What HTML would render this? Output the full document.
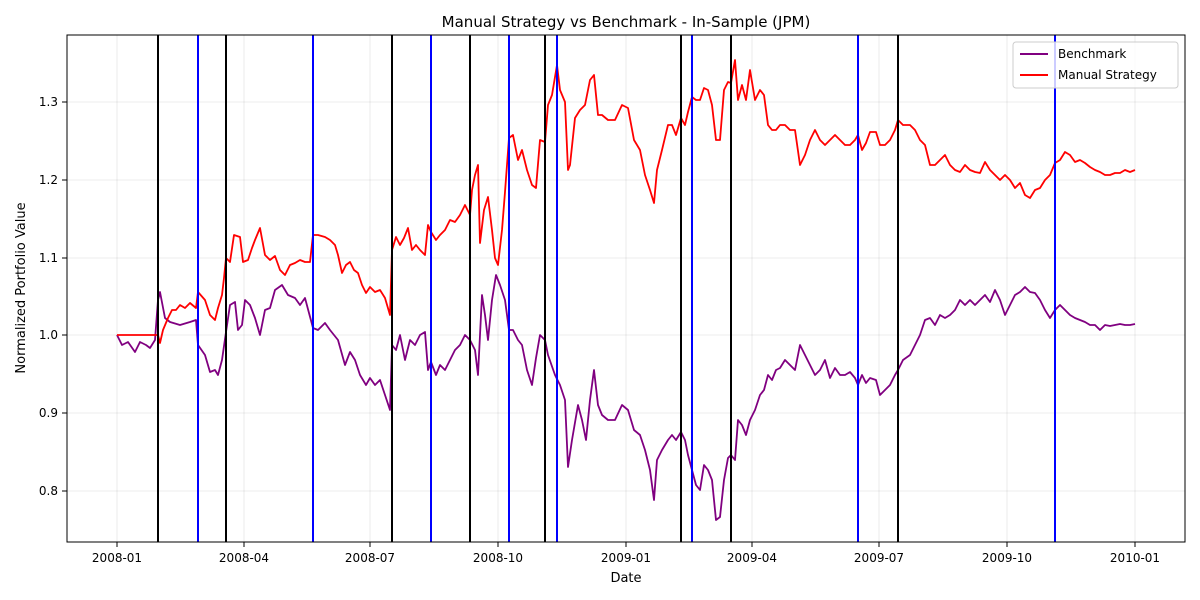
<!DOCTYPE html>
<html><head><meta charset="utf-8"><style>body{margin:0;background:#fff}svg{display:block}text{font-family:"DejaVu Sans","Liberation Sans",sans-serif;fill:#000}</style></head><body>
<svg width="1200" height="600" viewBox="0 0 1200 600">
<rect width="1200" height="600" fill="#fff"/>
<g stroke="#000" stroke-opacity="0.1" stroke-width="0.8">
<line x1="67" x2="1185" y1="491" y2="491"/><line x1="67" x2="1185" y1="413" y2="413"/><line x1="67" x2="1185" y1="335" y2="335"/><line x1="67" x2="1185" y1="258" y2="258"/><line x1="67" x2="1185" y1="180" y2="180"/><line x1="67" x2="1185" y1="102" y2="102"/>
<line y1="35" y2="542" x1="117" x2="117"/><line y1="35" y2="542" x1="244" x2="244"/><line y1="35" y2="542" x1="370" x2="370"/><line y1="35" y2="542" x1="498" x2="498"/><line y1="35" y2="542" x1="626" x2="626"/><line y1="35" y2="542" x1="752" x2="752"/><line y1="35" y2="542" x1="879" x2="879"/><line y1="35" y2="542" x1="1007" x2="1007"/><line y1="35" y2="542" x1="1135" x2="1135"/>
</g>
<polyline fill="none" stroke="#800080" stroke-width="1.8" stroke-linejoin="round" points="117,335 122,345 128,342 135,352 140,342 146,345 150,348 155,340 158,300 160,292 165,318 170,322 180,325 190,322 196,320 198,345 205,355 210,372 215,370 218,375 222,360 226,332 230,305 235,302 238,330 242,325 245,300 250,305 255,318 260,335 265,310 270,308 275,290 282,285 288,295 295,298 300,305 305,298 313,328 318,330 325,323 330,330 338,340 345,365 350,352 355,360 360,375 366,385 370,378 375,385 380,380 385,395 390,410 392,345 396,350 400,335 405,360 410,340 415,345 420,335 425,332 428,370 431,362 436,375 440,365 445,370 450,360 455,350 460,345 465,335 470,340 475,350 478,375 482,295 485,315 488,340 492,300 496,275 500,285 505,300 509,330 513,330 518,340 522,345 527,370 532,385 536,358 540,335 545,340 548,355 555,375 560,385 565,400 568,467 572,440 578,405 582,420 586,440 590,400 594,370 598,405 602,415 608,420 615,420 622,405 628,410 634,430 640,435 645,450 650,470 654,500 657,460 662,450 668,440 672,435 676,440 681,432 685,440 688,455 692,470 696,485 700,490 704,465 708,470 712,480 716,520 720,517 724,480 728,458 731,455 735,460 738,420 742,425 746,435 750,420 755,410 760,395 764,390 768,375 772,380 776,370 780,368 785,360 790,365 795,370 800,345 805,355 810,365 815,375 820,370 825,360 830,378 835,368 840,375 845,375 850,372 855,378 858,385 862,375 866,383 870,378 876,380 880,395 885,390 890,385 895,375 898,370 903,360 910,355 915,345 920,335 925,320 930,318 935,325 940,315 945,318 950,315 955,310 960,300 965,305 970,300 975,305 980,300 985,295 990,302 995,290 1000,300 1005,315 1010,305 1015,295 1020,292 1025,287 1030,292 1035,293 1040,300 1045,310 1050,318 1055,310 1060,305 1065,310 1070,315 1075,318 1080,320 1085,322 1090,325 1095,325 1100,330 1105,325 1110,326 1115,325 1120,324 1125,325 1130,325 1135,324"/>
<polyline fill="none" stroke="#ff0000" stroke-width="1.8" stroke-linejoin="round" points="117,335 158,335 160,343 163,330 168,318 172,310 176,310 180,305 185,308 190,303 196,308 198,292 205,300 210,315 215,320 218,308 222,295 224,278 226,258 230,262 234,235 240,237 243,262 248,260 252,248 255,240 260,228 265,255 270,260 275,256 280,270 285,275 290,265 295,263 300,260 305,262 310,262 313,235 318,235 325,237 330,240 335,245 338,255 342,273 346,265 350,262 354,270 358,273 362,285 366,293 370,287 375,292 380,290 385,298 390,315 392,250 396,237 400,245 404,238 408,228 412,250 416,245 420,250 425,255 428,225 431,232 436,240 440,235 445,230 450,220 455,222 460,215 465,205 470,215 472,190 475,175 478,165 480,243 484,210 488,197 492,230 495,258 498,265 502,230 505,192 509,138 513,135 518,160 522,150 527,170 532,185 536,188 540,140 545,142 548,105 552,95 557,65 560,90 565,102 568,170 570,165 575,118 580,110 585,105 590,80 594,75 598,115 602,115 608,120 615,120 622,105 628,108 634,140 640,150 645,175 650,190 654,203 657,170 662,150 668,125 672,125 676,135 681,118 685,125 688,112 692,97 696,100 700,100 704,88 708,90 712,105 716,140 720,140 724,90 728,82 731,83 735,60 738,100 742,85 746,100 750,70 755,100 760,90 764,95 768,125 772,130 776,130 780,125 785,125 790,130 795,130 800,165 805,155 810,140 815,130 820,140 825,145 830,140 835,135 840,140 845,145 850,145 855,140 858,135 862,150 866,143 870,132 876,132 880,145 885,145 890,140 895,130 898,120 903,125 910,125 915,130 920,140 925,145 930,165 935,165 940,160 945,155 950,165 955,170 960,172 965,165 970,170 975,172 980,173 985,162 990,170 995,175 1000,180 1005,175 1010,180 1015,188 1020,183 1025,195 1030,198 1035,190 1040,188 1045,180 1050,175 1055,163 1060,160 1065,152 1070,155 1075,162 1080,160 1085,163 1090,167 1095,170 1100,172 1105,175 1110,175 1115,173 1120,173 1125,170 1130,172 1135,170"/>
<g stroke="#000" stroke-width="2"><line x1="158" x2="158" y1="35" y2="542"/><line x1="226" x2="226" y1="35" y2="542"/><line x1="392" x2="392" y1="35" y2="542"/><line x1="470" x2="470" y1="35" y2="542"/><line x1="545" x2="545" y1="35" y2="542"/><line x1="681" x2="681" y1="35" y2="542"/><line x1="731" x2="731" y1="35" y2="542"/><line x1="898" x2="898" y1="35" y2="542"/></g>
<g stroke="#0000ff" stroke-width="2"><line x1="198" x2="198" y1="35" y2="542"/><line x1="313" x2="313" y1="35" y2="542"/><line x1="431" x2="431" y1="35" y2="542"/><line x1="509" x2="509" y1="35" y2="542"/><line x1="557" x2="557" y1="35" y2="542"/><line x1="692" x2="692" y1="35" y2="542"/><line x1="858" x2="858" y1="35" y2="542"/><line x1="1055" x2="1055" y1="35" y2="542"/></g>
<rect x="67" y="35" width="1118" height="507" fill="none" stroke="#000" stroke-width="1"/>
<g stroke="#000"><line x1="62" x2="67" y1="491" y2="491"/><line x1="62" x2="67" y1="413" y2="413"/><line x1="62" x2="67" y1="335" y2="335"/><line x1="62" x2="67" y1="258" y2="258"/><line x1="62" x2="67" y1="180" y2="180"/><line x1="62" x2="67" y1="102" y2="102"/>
<line y1="542" y2="547" x1="117" x2="117"/><line y1="542" y2="547" x1="244" x2="244"/><line y1="542" y2="547" x1="370" x2="370"/><line y1="542" y2="547" x1="498" x2="498"/><line y1="542" y2="547" x1="626" x2="626"/><line y1="542" y2="547" x1="752" x2="752"/><line y1="542" y2="547" x1="879" x2="879"/><line y1="542" y2="547" x1="1007" x2="1007"/><line y1="542" y2="547" x1="1135" x2="1135"/></g>
<g font-size="12" text-anchor="end"><text x="58" y="495">0.8</text><text x="58" y="417">0.9</text><text x="58" y="339">1.0</text><text x="58" y="262">1.1</text><text x="58" y="184">1.2</text><text x="58" y="106">1.3</text></g>
<g font-size="12" text-anchor="middle"><text x="117" y="562">2008-01</text><text x="244" y="562">2008-04</text><text x="370" y="562">2008-07</text><text x="498" y="562">2008-10</text><text x="626" y="562">2009-01</text><text x="752" y="562">2009-04</text><text x="879" y="562">2009-07</text><text x="1007" y="562">2009-10</text><text x="1135" y="562">2010-01</text></g>
<text x="626" y="582" font-size="13" text-anchor="middle">Date</text>
<text x="25" y="288" font-size="13" text-anchor="middle" transform="rotate(-90 25 288)">Normalized Portfolio Value</text>
<text x="626" y="27" font-size="15" text-anchor="middle">Manual Strategy vs Benchmark - In-Sample (JPM)</text>
<rect x="1013" y="42" width="165" height="46" rx="3" fill="#fff" fill-opacity="0.8" stroke="#ccc"/>
<line x1="1020" x2="1048" y1="54" y2="54" stroke="#800080" stroke-width="2"/>
<text x="1058" y="58" font-size="12">Benchmark</text>
<line x1="1020" x2="1048" y1="75" y2="75" stroke="#ff0000" stroke-width="2"/>
<text x="1058" y="79" font-size="12">Manual Strategy</text>
</svg>
</body></html>
